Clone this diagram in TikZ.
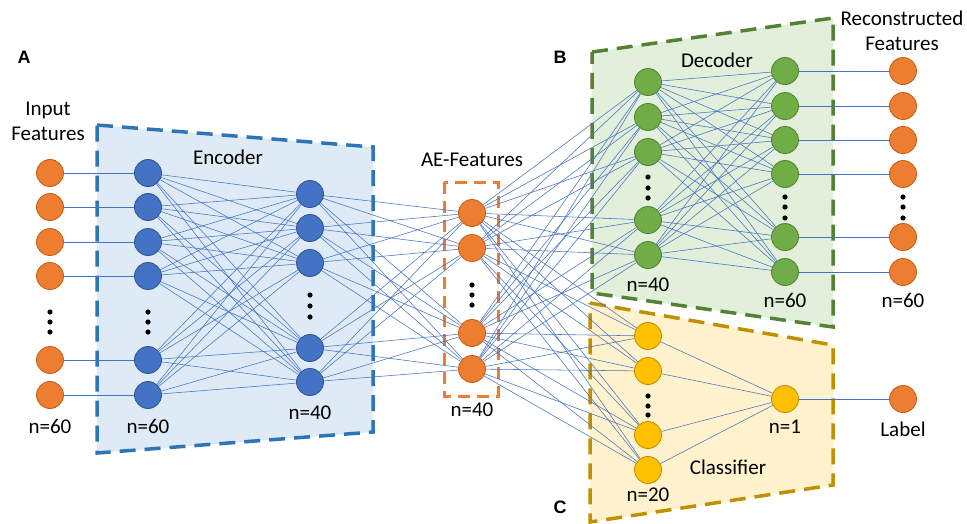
\documentclass[tikz,border=0pt]{standalone}
\usepackage{fontspec}
\setmainfont{Carlito}
\newfontfamily\letterfont{Liberation Sans}
\pgfdeclarelayer{boxes}
\pgfdeclarelayer{edges}
\pgfsetlayers{boxes,edges,main}
\definecolor{orF}{HTML}{ED7D31}
\definecolor{orD}{HTML}{C55A11}
\definecolor{blF}{HTML}{4472C4}
\definecolor{blD}{HTML}{2F528F}
\definecolor{grF}{HTML}{70AD47}
\definecolor{grD}{HTML}{507E32}
\definecolor{yeF}{HTML}{FFC000}
\definecolor{yeD}{HTML}{BC8C00}
\definecolor{lineblue}{HTML}{4472C4}
\definecolor{encFill}{HTML}{DEEBF7}
\definecolor{encLine}{HTML}{2E75B6}
\definecolor{decFill}{HTML}{E2EFDA}
\definecolor{decLine}{HTML}{548235}
\definecolor{clsFill}{HTML}{FFF2CC}
\definecolor{clsLine}{HTML}{BF9000}
\tikzset{
  neuron/.style={circle, minimum size=27pt, inner sep=0pt, line width=0.8pt},
  orn/.style={neuron, fill=orF, draw=orD},
  bln/.style={neuron, fill=blF, draw=blD},
  grn/.style={neuron, fill=grF, draw=grD},
  yen/.style={neuron, fill=yeF, draw=yeD},
  conn/.style={draw=lineblue, line width=0.55pt},
  txt/.style={font=\fontsize{21}{25}\selectfont, inner sep=0pt, align=center},
  letter/.style={font=\letterfont\bfseries\fontsize{18}{20}\selectfont, inner sep=0pt},
  dashbox/.style={line width=3.5pt, dash pattern=on 16pt off 9pt},
  dotc/.style={fill=black}
}
\begin{document}
\begin{tikzpicture}[x=1pt,y=-1pt]
\useasboundingbox (0,0) rectangle (967,523);
% boxes
\begin{pgfonlayer}{boxes}
\filldraw[dashbox, fill=encFill, draw=encLine] (97,125) -- (373,147) -- (373,432) -- (97,453) -- cycle;
\filldraw[dashbox, fill=decFill, draw=decLine] (592,52) -- (833,18) -- (833,327) -- (592,293) -- cycle;
\filldraw[dashbox, fill=clsFill, draw=clsLine] (590,303) -- (833,345) -- (833,485) -- (590,522) -- cycle;
\draw[dashbox, draw=orF, line width=3pt, dash pattern=on 12pt off 7pt] (444,182) rectangle (498,396);
\end{pgfonlayer}
% input layer
\foreach \i/\y in {1/173,2/207,3/242,4/276,5/360,6/395}{
  \node[orn] (inp\i) at (50,\y) {};
  \node[bln] (enA\i) at (148,\y) {};
}
\foreach \i/\y in {1/194,2/228,3/263,4/348,5/382}{
  \node[bln] (enB\i) at (310,\y) {};
}
\foreach \i/\y in {1/213,2/248,3/333,4/369}{
  \node[orn] (ae\i) at (472,\y) {};
}
\foreach \i/\y in {1/82,2/117,3/152,4/220,5/255}{
  \node[grn] (deA\i) at (648,\y) {};
}
\foreach \i/\y in {1/71,2/106,3/140,4/174,5/237,6/272}{
  \node[grn] (deB\i) at (785,\y) {};
  \node[orn] (out\i) at (903,\y) {};
}
\foreach \i/\y in {1/336,2/371,3/435,4/470}{
  \node[yen] (clA\i) at (648,\y) {};
}
\node[yen] (clB) at (785,399) {};
\node[orn] (lab) at (903,399) {};
% dots
\foreach \x/\a/\b/\c in {50/312/322/332,148/312/322/332,310/295/306/317,472/285/295/305,648/177/188/198,785/197/207/218,903/197/207/218,648/396/406/415}{
  \fill[dotc] (\x,\a) circle (2.6pt) (\x,\b) circle (2.6pt) (\x,\c) circle (2.6pt);
}
% edges
\begin{pgfonlayer}{edges}
\foreach \i in {1,...,6}{ \draw[conn] (inp\i) -- (enA\i); }
\foreach \i in {1,...,6}{ \foreach \j in {1,...,5}{ \draw[conn] (enA\i) -- (enB\j); } }
\foreach \i in {1,...,5}{ \foreach \j in {1,...,4}{ \draw[conn] (enB\i) -- (ae\j); } }
\foreach \i in {1,...,4}{
  \foreach \j in {1,...,5}{ \draw[conn] (ae\i) -- (deA\j); }
  \foreach \j in {1,...,4}{ \draw[conn] (ae\i) -- (clA\j); }
}
\foreach \i in {1,...,5}{ \foreach \j in {1,...,6}{ \draw[conn] (deA\i) -- (deB\j); } }
\foreach \i in {1,...,6}{ \draw[conn] (deB\i) -- (out\i); }
\foreach \i in {1,...,4}{ \draw[conn] (clA\i) -- (clB); }
\draw[conn] (clB) -- (lab);
\end{pgfonlayer}
% labels
\node[letter] (lA) at (24,57) {A};
\node[letter] (lB) at (560,57) {B};
\node[letter] (lC) at (560,507) {C};
\node[txt] (tin) at (48,121) {Input\\Features};
\node[txt] (tenc) at (228,157) {Encoder};
\node[txt] (tn1) at (50,426) {n=60};
\node[txt] (tn2) at (148,426) {n=60};
\node[txt] (tn3) at (310,413) {n=40};
\node[txt] (tae) at (472,160) {AE-Features};
\node[txt] (tn4) at (472,410) {n=40};
\node[txt] (tdec) at (717,60) {Decoder};
\node[txt] (trec) at (902,31) {Reconstructed\\Features};
\node[txt] (tn5) at (648,285) {n=40};
\node[txt] (tn6) at (785,300) {n=60};
\node[txt] (tn7) at (903,300) {n=60};
\node[txt] (tn8) at (785,427) {n=1};
\node[txt] (tlab) at (903,429) {Label};
\node[txt] (tcls) at (728,467) {Classifier};
\node[txt] (tn9) at (648,495) {n=20};
\end{tikzpicture}
\end{document}
